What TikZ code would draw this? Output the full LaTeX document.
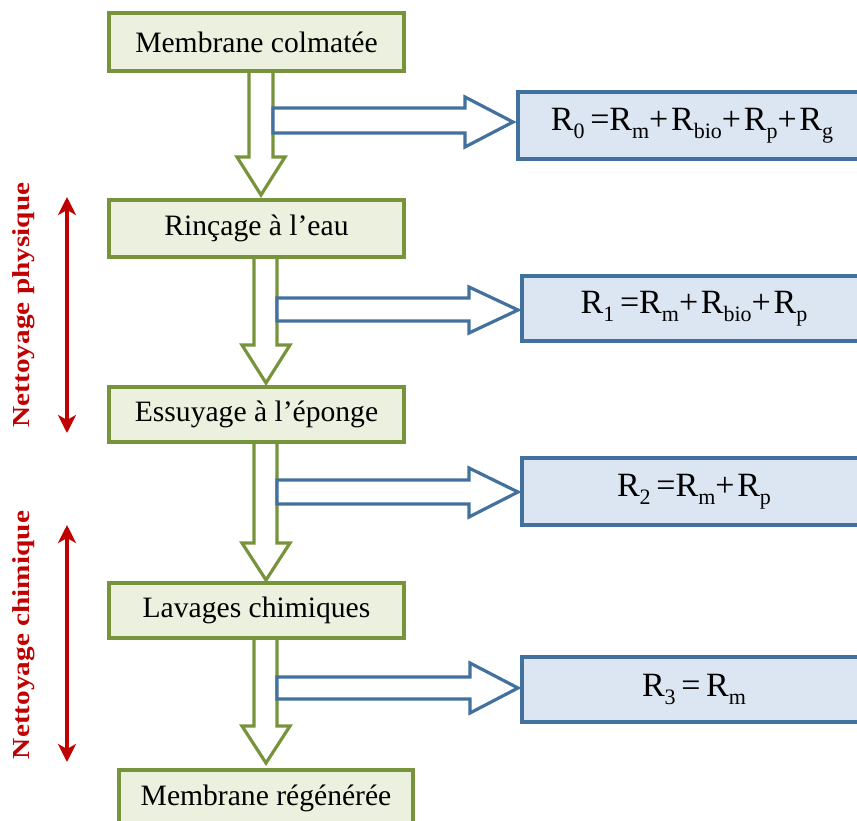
\documentclass[tikz,border=0pt]{standalone}
\usepackage{fontspec}
\setmainfont{Liberation Serif}
\usetikzlibrary{arrows.meta}
\definecolor{gline}{HTML}{77933C}
\definecolor{gfill}{HTML}{EBF1DE}
\definecolor{bline}{HTML}{41719C}
\definecolor{bfill}{HTML}{DCE6F2}
\definecolor{rline}{HTML}{C00000}
\newcommand\subx[1]{\raisebox{-0.22em}{\fontsize{11}{12}\selectfont #1}}
\begin{document}
\begin{tikzpicture}[x=0.5pt,y=-0.5pt,
  gbox/.style={draw=gline, fill=gfill, line width=1.7pt, minimum width=147.5pt, inner sep=0pt, font=\fontsize{14.8}{16}\selectfont},
  bbox/.style={draw=bline, fill=bfill, line width=1.7pt, minimum width=174pt, inner sep=0pt, font=\fontsize{17}{19}\selectfont},
  garrow/.style={draw=gline, fill=white, line width=1.6pt, miter limit=10},
  barrow/.style={draw=bline, fill=white, line width=1.6pt, miter limit=10},
  redarrow/.style={draw=rline, line width=1.6pt, {Stealth[length=9pt,width=9pt,inset=2.5pt]}-{Stealth[length=9pt,width=9pt,inset=2.5pt]}},
  redlabel/.style={text=rline, rotate=90, inner sep=0pt}
]
\useasboundingbox (0,0) rectangle (857,820);
\clip (0,0) rectangle (857,820);

% green block arrows
\draw[garrow] (249,68) -- (249,157) -- (237,157) -- (261,195) -- (285,157) -- (273,157) -- (273,68) -- cycle;
\draw[garrow] (254,254) -- (254,345) -- (242,345) -- (266,383) -- (290,345) -- (277,345) -- (277,254) -- cycle;
\draw[garrow] (254,439) -- (254,543) -- (242,543) -- (266,580) -- (290,543) -- (277,543) -- (277,439) -- cycle;
\draw[garrow] (254,635) -- (254,726) -- (242,726) -- (266,763) -- (290,726) -- (277,726) -- (277,635) -- cycle;

% blue block arrows
\draw[barrow] (273,108) -- (465,108) -- (465,97) -- (513,122) -- (465,147) -- (465,133) -- (273,133) -- cycle;
\draw[barrow] (277,298) -- (469,298) -- (469,287) -- (518,310) -- (469,333) -- (469,321) -- (277,321) -- cycle;
\draw[barrow] (277,480) -- (469,480) -- (469,468) -- (518,492) -- (469,517) -- (469,504) -- (277,504) -- cycle;
\draw[barrow] (277,677) -- (470,677) -- (470,663) -- (518,688) -- (470,713) -- (470,699) -- (277,699) -- cycle;

% green boxes
\node[gbox, minimum height=29pt] (b1) at (256.5,42) {Membrane colmatée};
\node[gbox, minimum height=28.5pt] (b2) at (256.5,228.5) {Rinçage à l’eau};
\node[gbox, minimum height=27.5pt] (b3) at (256.5,414.5) {Essuyage à l’éponge};
\node[gbox, minimum height=27.5pt] (b4) at (256.5,610.5) {Lavages chimiques};
\node[gbox, minimum height=28.5pt, minimum width=147pt] (b5) at (266,798.5) {Membrane régénérée};

% blue boxes
\node[bbox, minimum height=33.5pt] (r0) at (692,125.5) {R\subx{0}\,=R\subx{m}+\kern0.08em R\subx{bio}+\kern0.08em R\subx{p}+\kern0.08em R\subx{g}};
\node[bbox, minimum height=32.5pt, minimum width=172pt] (r1) at (694,308.5) {R\subx{1}\,=R\subx{m}+\kern0.08em R\subx{bio}+\kern0.08em R\subx{p}};
\node[bbox, minimum height=33.5pt, minimum width=172pt] (r2) at (694,491.5) {R\subx{2}\,=R\subx{m}+\kern0.08em R\subx{p}};
\node[bbox, minimum height=32.5pt, minimum width=172pt] (r3) at (694,689.5) {R\subx{3}\,=\,R\subx{m}};

% red double arrows and labels
\coordinate (p1t) at (67,197);
\coordinate (p1b) at (67,433);
\coordinate (c1t) at (67,525);
\coordinate (c1b) at (67,762);
\draw[redarrow] (p1t) -- (p1b);
\draw[redarrow] (c1t) -- (c1b);
\node[redlabel] (lp) at (24,305) {\scalebox{1.2}[1]{\fontsize{12.2}{14}\selectfont\bfseries Nettoyage physique}};
\node[redlabel] (lc) at (24,635) {\scalebox{1.2}[1]{\fontsize{12.2}{14}\selectfont\bfseries Nettoyage chimique}};
\end{tikzpicture}
\end{document}
